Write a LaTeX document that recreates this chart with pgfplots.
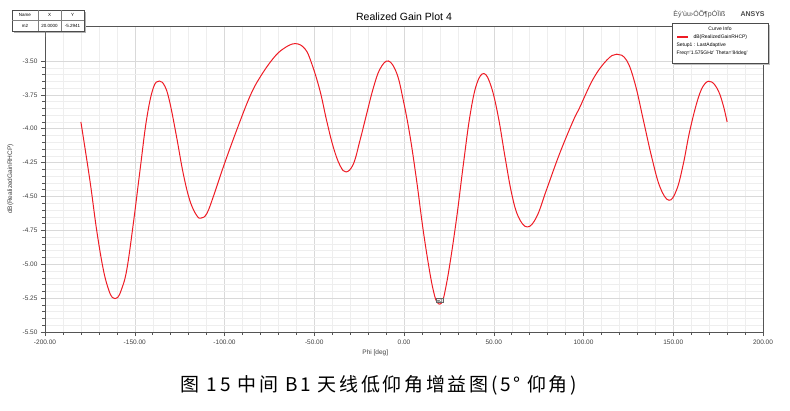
\documentclass[border=0pt]{standalone}
\usepackage{fontspec}
\setmainfont{Liberation Sans}
\newfontfamily\cjk[LetterSpace=14]{Noto Sans CJK SC}
\usepackage{pgfplots}
\pgfplotsset{compat=1.18}
\definecolor{curve}{HTML}{EE1C25}
\definecolor{majgrid}{HTML}{D9D9D9}
\definecolor{mingrid}{HTML}{EEEEEE}
\definecolor{axisgray}{HTML}{555555}

\begin{document}
\begin{tikzpicture}[x=1pt,y=1pt]
\path[use as bounding box] (0,0) rectangle (790,410);
\begin{axis}[
  at={(45pt,78pt)}, anchor=south west,
  scale only axis, width=718pt, height=306pt,
  xmin=-200, xmax=200, ymin=-5.5, ymax=-3.242,
  xtick={-200,-150,...,200},
  ytick={-5.5,-5.25,...,-3.5},
  minor x tick num=4, minor y tick num=4,
  grid=both,
  major grid style={majgrid, line width=0.5pt},
  minor grid style={mingrid, line width=0.4pt},
  axis line style={axisgray, line width=0.6pt},
  tick style={axisgray, line width=0.5pt},
  major tick length=4pt, minor tick length=2.5pt,
  tick align=outside,
  xtick pos=bottom, ytick pos=left,
  ticklabel style={font=\fontsize{6.5}{7}\selectfont, text=black!75},
  /pgf/number format/assume math mode=true,
  /pgf/number format/.cd, fixed, fixed zerofill, precision=2, /pgfplots/.cd,
  scaled ticks=false,
  xlabel={Phi [deg]},
  ylabel={dB(RealizedGainRHCP)},
  label style={font=\fontsize{6.5}{7}\selectfont, text=black!75},
  xlabel style={at={(axis description cs:0.46,0)}, anchor=north, yshift=-14pt},
  ylabel style={at={(axis description cs:0,0.5)}, anchor=south, yshift=28pt},
  clip=false,
]
\addplot[curve, line width=1pt, smooth, tension=0.65] coordinates {
(-180,-3.95) (-175,-4.38) (-171.2,-4.75) (-167.5,-5.04) (-164.5,-5.19) (-162.5,-5.245) (-161,-5.254)
(-159.5,-5.245) (-157.5,-5.19) (-154.5,-5.045) (-150.8,-4.70) (-147.1,-4.31) (-143.4,-3.93)
(-139.7,-3.70) (-136.3,-3.648) (-133.1,-3.69) (-130.4,-3.81) (-126.7,-4.06)
(-123,-4.33) (-119.3,-4.53) (-115.5,-4.64) (-113,-4.659) (-109.9,-4.627)
(-106.2,-4.50) (-100.6,-4.28) (-93.2,-4.01) (-85.8,-3.76) (-80.2,-3.62)
(-72.8,-3.48) (-67.2,-3.41) (-60.7,-3.372) (-55.2,-3.41) (-51.4,-3.52)
(-46.8,-3.72) (-43.1,-3.94) (-39.4,-4.135) (-35.7,-4.27) (-32.3,-4.319)
(-28.2,-4.26) (-24.5,-4.085) (-20.8,-3.89) (-17.1,-3.70) (-13.4,-3.56)
(-8.7,-3.50) (-4.0,-3.593) (-0.4,-3.79) (3.3,-4.05) (7,-4.38) (10.7,-4.75)
(14.5,-5.07) (17,-5.23) (18.5,-5.28) (20,-5.2941) (21.5,-5.27) (23,-5.19) (25.6,-4.995) (29.4,-4.65)
(33.1,-4.26) (36.8,-3.90) (40.5,-3.67) (44.6,-3.593) (48.6,-3.69) (52.5,-3.91)
(56.3,-4.21) (60,-4.48) (63.7,-4.65) (68.7,-4.725) (73.9,-4.65) (79.4,-4.45)
(86.8,-4.18) (94.3,-3.94) (98,-3.84) (105.5,-3.63) (112.9,-3.495) (118.5,-3.45)
(124,-3.495) (128.7,-3.667) (133.4,-3.94) (138,-4.21) (142.6,-4.43) (147.6,-4.528)
(151.9,-4.45) (155.6,-4.26) (159.3,-4.01) (164,-3.77) (167.7,-3.667) (171.4,-3.655)
(175.1,-3.72) (177.9,-3.83) (180,-3.95)
};
\node[draw=black!60, fill=white, inner sep=0.6pt, font=\fontsize{4}{4}\selectfont, anchor=south]
  at (axis cs:20,-5.285) {m2};
\end{axis}
% title
\node[font=\fontsize{10.5}{12}\selectfont] at (404,393) {Realized Gain Plot 4};
\node[font=\fontsize{7}{8}\selectfont, text=black!70, anchor=east] at (729,396) {Èý'ùu›ÓÕ¶pÓÏïß};
\node[font=\bfseries\fontsize{7}{8}\selectfont, text=black!70, anchor=west] at (737,396) {ANSYS};
% curve info box
\fill[black!25] (674,345) rectangle (770,385);
\draw[black!70, fill=white, line width=0.5pt] (672,347) rectangle (768,387);
\node[font=\fontsize{5}{6}\selectfont] at (720,381) {Curve Info};
\draw[draw=curve, line width=1.2pt] (677,373) -- (688,373);
\node[font=\fontsize{5}{6}\selectfont, anchor=west] at (690,373) {dB(RealizedGainRHCP)};
\node[font=\fontsize{5}{6}\selectfont, anchor=west] at (673,365) {Setup1 : LastAdaptive};
\node[font=\fontsize{5}{6}\selectfont, anchor=west] at (673,357) {Freq='1.575GHz' Theta='84deg'};
% marker table
\fill[black!30] (14,377) rectangle (86,398);
\draw[black!70, fill=white, line width=0.5pt] (12,379) rectangle (84,400);
\draw[black!50, line width=0.4pt] (12,389.5) -- (84,389.5) (38,379) -- (38,400) (61,379) -- (61,400);
\begin{scope}[font=\fontsize{4.5}{5}\selectfont]
\node at (25,395) {Name}; \node at (49.5,395) {X}; \node at (72.5,395) {Y};
\node at (25,384.2) {m2}; \node at (49.5,384.2) {20.0000}; \node at (72.5,384.2) {-5.2941};
\end{scope}
\draw[black!60, line width=0.4pt] (45,379) -- (45,373);
% caption
\node[font=\cjk\fontsize{19}{21}\selectfont] at (379,25) {图 15 中间 B1 天线低仰角增益图(5° 仰角)};
\end{tikzpicture}
\end{document}
